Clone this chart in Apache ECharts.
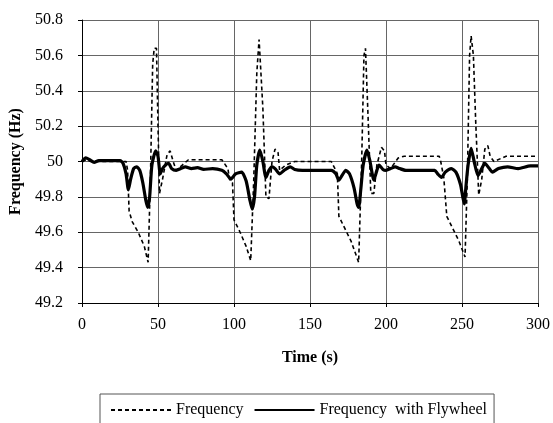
<!DOCTYPE html>
<html>
<head>
<meta charset="utf-8">
<script src="https://cdn.jsdelivr.net/npm/echarts@6/dist/echarts.min.js"></script>
<style>html,body{margin:0;padding:0;background:#fff}#c{width:553px;height:423px}</style>
</head>
<body>
<div id="c"></div>
<script>
// Series: Frequency (dashed)
var freqT = [0,3,6,29,30,31,33,37,41,43.5,45,46.5,47.5,49,50,51,53,56,58,60,62,66,70,92,96,97,99,100,104,108,111,113,115,116.5,117.5,119,121,123,125,127,129,130,134,140,164,167,168,169,173,177,182,184,185.5,186.5,188,190,192,194,197,199,200,203,208,212,235,236,238,240,244,248,252,253.5,255,256,257.5,259,261,263,265,267,268.5,271,279,300];
var freqV = [50.0,50.01,50.0,50.0,49.95,49.72,49.66,49.6,49.52,49.43,49.9,50.55,50.64,50.64,50.2,49.82,49.9,50.04,50.06,50.0,49.95,49.98,50.01,50.01,49.96,49.9,49.88,49.67,49.6,49.52,49.44,49.9,50.5,50.69,50.68,50.3,49.8,49.79,50.0,50.07,50.05,49.95,49.98,50.0,50.0,49.95,49.93,49.69,49.62,49.55,49.43,50.0,50.6,50.64,50.3,49.82,49.82,49.98,50.08,50.06,49.98,49.96,50.02,50.03,50.03,50.0,49.91,49.69,49.62,49.55,49.46,49.9,50.6,50.71,50.6,50.23,49.81,49.9,50.07,50.09,50.03,50.0,50.03,50.03];
// Series: Frequency with Flywheel (thick)
var flyT = [0,2.5,5,8,11,25,27,29,30.5,32,34,36,38,40,42,43.3,44.5,46,48.5,50,51.5,53,55,57,59,62,65,68,72,76,80,86,92,95,98,101,105,108,110.5,112,113.5,115,117,119,121,123,125,127,130,133,137,140,145,164,167,169,171,173.5,176,179,181,182,183.5,185,187.5,189.5,192,194,195.5,198,200,203,206,209,213,232,234,236.5,239,243,246,249,250.5,251.5,252.5,254,256,258,260.5,263,265,268,270,274,280,287,295,300];
var flyV = [50.0,50.02,50.01,49.995,50.005,50.005,49.99,49.93,49.84,49.9,49.96,49.97,49.95,49.88,49.78,49.74,49.8,49.98,50.06,50.03,49.93,49.96,49.98,49.99,49.96,49.95,49.96,49.97,49.96,49.965,49.955,49.96,49.95,49.93,49.9,49.93,49.94,49.89,49.78,49.73,49.8,49.98,50.065,50.0,49.91,49.95,49.97,49.96,49.93,49.95,49.97,49.955,49.95,49.95,49.93,49.895,49.92,49.95,49.93,49.85,49.76,49.74,49.85,49.98,50.065,50.0,49.895,49.95,49.98,49.955,49.95,49.96,49.97,49.96,49.95,49.95,49.93,49.91,49.94,49.96,49.94,49.87,49.8,49.76,49.85,49.98,50.075,50.0,49.92,49.96,49.99,49.96,49.94,49.96,49.97,49.96,49.975,49.975];
var seriesNames = ['Frequency', 'Frequency  with Flywheel'];
var xTitle = 'Time (s)';
var yTitle = 'Frequency (Hz)';

function zip(a, b) { return a.map(function (t, i) { return [t, b[i]]; }); }

var FONT = 'Liberation Serif, Times New Roman, serif';
var chart = echarts.init(document.getElementById('c'), null, {renderer: 'canvas'});
chart.setOption({
  animation: false,
  backgroundColor: '#fff',
  grid: {left: 82, right: 13, top: 20, bottom: 120, containLabel: false},
  legend: {
    left: 100, top: 394,
    padding: [8, 7, 8, 10],
    itemGap: 10,
    itemWidth: 60, itemHeight: 14,
    borderColor: '#555', borderWidth: 1,
    itemStyle: {color: 'rgba(0,0,0,0)', borderColor: 'rgba(0,0,0,0)', borderWidth: 0, opacity: 0},
    textStyle: {fontFamily: FONT, fontSize: 16, color: '#000'},
    data: [
      {name: seriesNames[0], textStyle: {width: 72}},
      {name: seriesNames[1], textStyle: {width: 188}}
    ]
  },
  xAxis: {
    type: 'value', min: 0, max: 300, interval: 50,
    name: xTitle, nameLocation: 'middle', nameGap: 47,
    nameTextStyle: {fontFamily: FONT, fontSize: 16, fontWeight: 'bold', color: '#000'},
    axisLine: {lineStyle: {color: '#000', width: 1}},
    axisTick: {show: true, length: 4, lineStyle: {color: '#000'}},
    axisLabel: {fontFamily: FONT, fontSize: 16, color: '#000', margin: 14},
    splitLine: {show: true, lineStyle: {color: '#666', width: 1}}
  },
  yAxis: {
    type: 'value', min: 49.2, max: 50.8, interval: 0.2,
    name: yTitle, nameLocation: 'middle', nameGap: 46, nameRotate: 90,
    nameTextStyle: {fontFamily: FONT, fontSize: 16, fontWeight: 'bold', color: '#000'},
    axisLine: {show: true, lineStyle: {color: '#000', width: 1}},
    axisTick: {show: true, length: 4, lineStyle: {color: '#000'}},
    axisLabel: {fontFamily: FONT, fontSize: 16, color: '#000', margin: 19,
      formatter: function (v) { return String(Math.round(v * 10) / 10); }},
    splitLine: {show: true, lineStyle: {color: '#666', width: 1}}
  },
  series: [
    {
      name: seriesNames[0], type: 'line', symbol: 'none',
      data: zip(freqT, freqV),
      lineStyle: {color: '#000', width: 1.6, type: [4, 3]},
      itemStyle: {color: '#000'}
    },
    {
      name: seriesNames[1], type: 'line', symbol: 'none', smooth: 0.2,
      data: zip(flyT, flyV),
      lineStyle: {color: '#000', width: 3.2},
      itemStyle: {color: '#000'}
    }
  ]
});
</script>
</body>
</html>
